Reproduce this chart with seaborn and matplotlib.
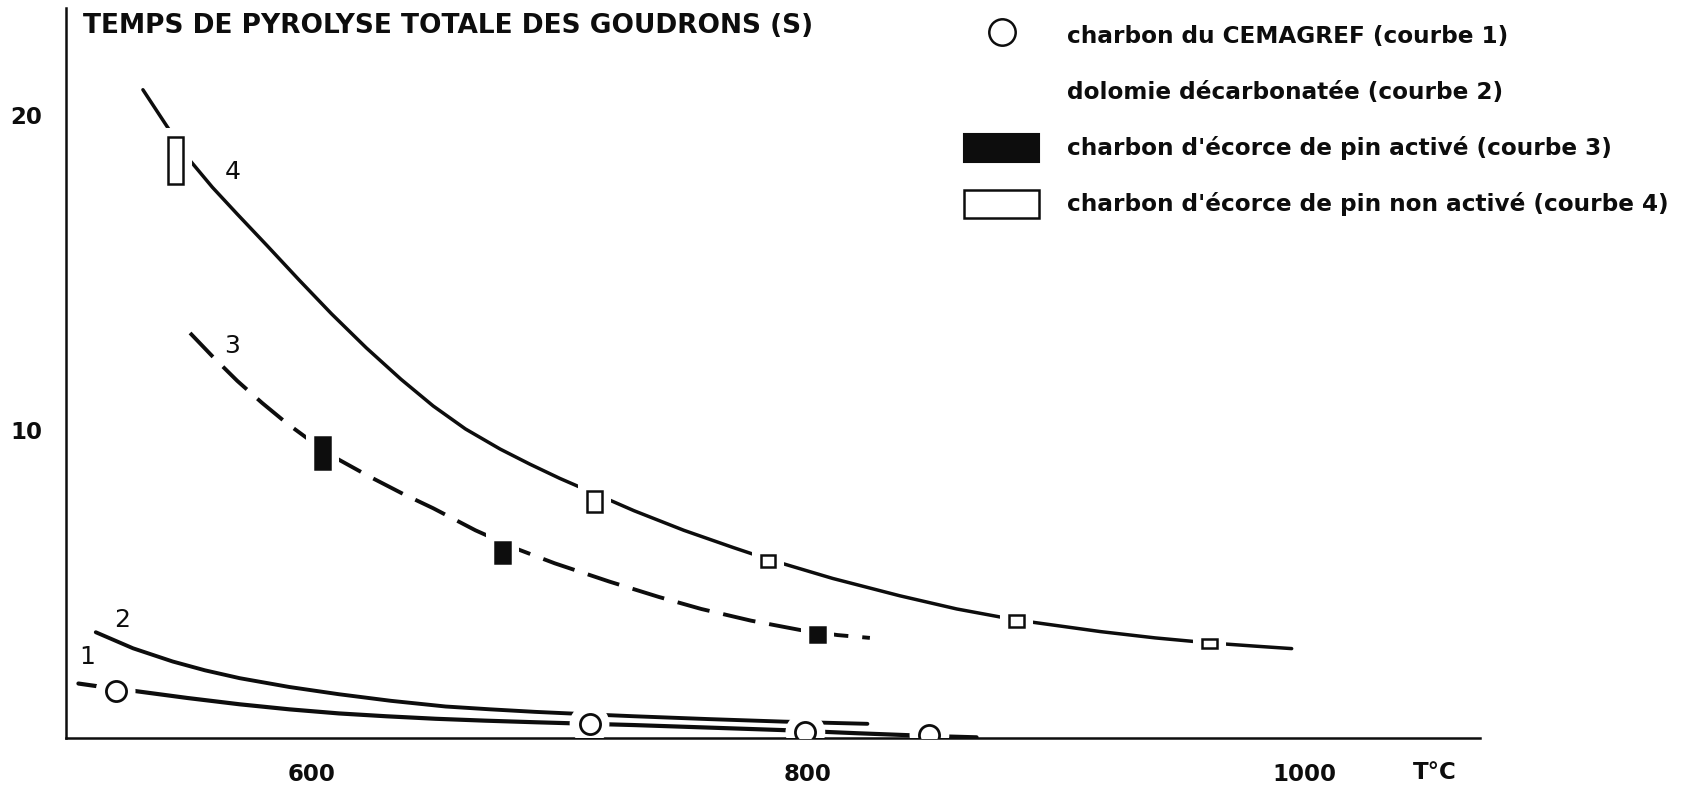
import numpy as np
import pandas as pd
import matplotlib
matplotlib.use("Agg")
import matplotlib.pyplot as plt
import matplotlib.transforms as mtransforms
from matplotlib.lines import Line2D
from matplotlib.patches import Patch
import seaborn as sns

# ---------------- data ----------------
# courbe 1 : charbon du CEMAGREF
c1_line_T = [506, 514, 521, 529, 550, 571, 591, 611, 630, 650, 670, 690, 712, 730, 760, 790, 799, 820, 840, 850, 868]
c1_line_y = [1.93, 1.84, 1.77, 1.69, 1.47, 1.27, 1.11, 0.98, 0.89, 0.81, 0.75, 0.70, 0.65, 0.61, 0.53, 0.45, 0.42, 0.35, 0.29, 0.26, 0.22]
c1_pts_T = [521, 712, 799, 849]
c1_pts_y = [1.69, 0.65, 0.38, 0.30]

# courbe 2 : dolomie décarbonatée
c2_line_T = [513, 528, 544, 557, 571, 591, 611, 632, 654, 672, 690, 712, 730, 760, 790, 809, 824]
c2_line_y = [3.56, 3.05, 2.63, 2.35, 2.10, 1.82, 1.59, 1.38, 1.20, 1.11, 1.03, 0.95, 0.89, 0.80, 0.72, 0.68, 0.65]

# courbe 3 : charbon d'écorce de pin activé
c3_line_T = [551, 560, 570, 580, 590, 600, 609, 623, 637, 649, 666, 683, 698, 720, 740, 757, 777, 797, 812, 825]
c3_line_y = [13.07, 12.33, 11.55, 10.85, 10.2, 9.62, 9.13, 8.52, 7.95, 7.5, 6.8, 6.2, 5.75, 5.17, 4.68, 4.3, 3.93, 3.63, 3.47, 3.38]
c3_pts_T = [604.5, 677, 804]
c3_pts_lo = [8.74, 5.77, 3.26]
c3_pts_hi = [9.77, 6.43, 3.72]

# courbe 4 : charbon d'écorce de pin non activé
c4_line_T = [532, 542, 551, 560, 570, 582, 595, 608, 622, 636, 649, 662, 676, 688, 700, 714, 730, 750, 770, 784, 810, 837, 860, 884, 918, 940, 962, 980, 995]
c4_line_y = [20.8, 19.6, 18.55, 17.7, 16.85, 15.85, 14.75, 13.68, 12.6, 11.6, 10.75, 10.02, 9.38, 8.9, 8.45, 7.97, 7.42, 6.8, 6.25, 5.88, 5.27, 4.72, 4.3, 3.95, 3.58, 3.38, 3.22, 3.12, 3.04]
c4_pts_T = [545, 714, 784, 884, 962]
c4_pts_lo = [17.8, 7.37, 5.64, 3.72, 3.05]
c4_pts_hi = [19.3, 8.05, 6.01, 4.12, 3.36]

x_ticks = [600, 800, 1000]
y_ticks = [10, 20]
title_text = "TEMPS DE PYROLYSE TOTALE DES GOUDRONS (S)"
x_unit = "T°C"
legend_labels = ["charbon du CEMAGREF (courbe 1)",
                 "dolomie décarbonatée (courbe 2)",
                 "charbon d'écorce de pin activé (courbe 3)",
                 "charbon d'écorce de pin non activé (courbe 4)"]
curve_labels = ["1", "2", "3", "4"]
curve_label_T = [509.4, 523.8, 567.8, 568.1]
curve_label_y = [2.78, 3.96, 12.66, 18.19]

# ---------------- style ----------------
sns.set_theme(style="white")
plt.rcParams["font.family"] = ["DejaVu Sans"]
plt.rcParams["axes.linewidth"] = 1.8

fig = plt.figure(figsize=(16.84, 7.87), dpi=100)
ax = fig.add_axes([0.0392, 0.0619, 0.8398, 0.928])
ax.set_xlim(501, 1071)
ax.set_ylim(0.19, 23.4)

INK = "#0d0d0d"
LW = 2.8
RECT_W = 5.9

# lines
sns.lineplot(x=c4_line_T, y=c4_line_y, ax=ax, color=INK, lw=2.5, sort=False, zorder=2)
sns.lineplot(x=c3_line_T, y=c3_line_y, ax=ax, color=INK, lw=LW, sort=False, zorder=2)
ax.lines[-1].set_linestyle((0, (8.5, 3.6)))
sns.lineplot(x=c2_line_T, y=c2_line_y, ax=ax, color=INK, lw=LW, sort=False, zorder=2)
sns.lineplot(x=c1_line_T, y=c1_line_y, ax=ax, color=INK, lw=3.0, sort=False, zorder=2)

# white halos (gaps of the line around each marker)
sns.scatterplot(x=c1_pts_T, y=c1_pts_y, ax=ax, s=820, color="white", edgecolor="none",
                marker="o", zorder=3, legend=False)
for T, lo, hi in [(c3_pts_T, c3_pts_lo, c3_pts_hi), (c4_pts_T, c4_pts_lo, c4_pts_hi)]:
    ax.bar(T, np.subtract(hi, lo), bottom=lo, width=RECT_W, color="white",
           edgecolor="white", linewidth=13, zorder=3)

# markers
sns.scatterplot(x=c1_pts_T, y=c1_pts_y, ax=ax, s=210, color="white", edgecolor=INK,
                linewidth=2.0, marker="o", zorder=4, legend=False)
ax.bar(c3_pts_T, np.subtract(c3_pts_hi, c3_pts_lo), bottom=c3_pts_lo, width=RECT_W,
       color=INK, edgecolor=INK, linewidth=1.8, zorder=4)
ax.bar(c4_pts_T, np.subtract(c4_pts_hi, c4_pts_lo), bottom=c4_pts_lo, width=RECT_W,
       color="white", edgecolor=INK, linewidth=1.8, zorder=4)

# curve numbers
for lab, T, y in zip(curve_labels, curve_label_T, curve_label_y):
    ax.text(T, y, lab, fontsize=18, color=INK, ha="center", va="center")

# axes / ticks
sns.despine(ax=ax)
for s in ["left", "bottom"]:
    ax.spines[s].set_color(INK)
    ax.spines[s].set_zorder(2.5)
ax.set_xticks(x_ticks)
ax.set_yticks(y_ticks)
ax.set_xticklabels([str(v) for v in x_ticks], fontsize=16.5, fontweight="bold", color=INK)
ax.set_yticklabels([str(v) for v in y_ticks], fontsize=16.5, fontweight="bold", color=INK)
ax.tick_params(axis="x", direction="in", length=8.5, width=1.8, pad=18, colors=INK)
ax.tick_params(axis="y", direction="in", length=8.5, width=1.8, pad=17, colors=INK)
ax.grid(False)
ax.set_xlabel("")
ax.set_ylabel("")

trans = mtransforms.blended_transform_factory(ax.transData, ax.transAxes)
ax.text(1052.8, -0.047, x_unit, transform=trans, fontsize=16.5, fontweight="bold",
        color=INK, ha="center", va="center")

fig.text(0.049, 0.967, title_text, fontsize=19, fontweight="bold", color=INK,
         ha="left", va="center")

handles = [
    Line2D([], [], ls="none", marker="o", ms=19, mfc="white", mec=INK, mew=1.8),
    Line2D([], [], ls="none"),
    Patch(facecolor=INK, edgecolor=INK, lw=1.5),
    Patch(facecolor="white", edgecolor=INK, lw=1.8),
]
leg = fig.legend(handles, legend_labels, loc="upper left", bbox_to_anchor=(0.5727, 0.973),
                 bbox_transform=fig.transFigure, frameon=False,
                 prop={"weight": "bold", "size": 16.7},
                 handlelength=3.23, handleheight=1.5, handletextpad=1.19,
                 labelspacing=1.2, borderpad=0, borderaxespad=0)
for t in leg.get_texts():
    t.set_color(INK)

fig.savefig("out.png", dpi=100, facecolor="white")
